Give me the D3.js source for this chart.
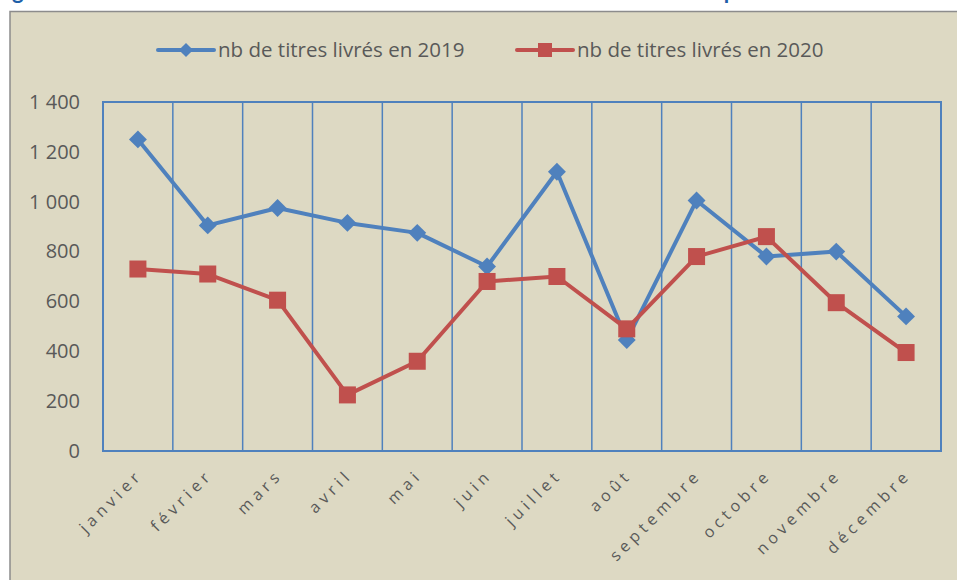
<!DOCTYPE html>
<html>
<head>
<meta charset="utf-8">
<script src="https://cdn.jsdelivr.net/npm/d3@7"></script>
<style>
  body { margin: 0; background: #fff; }
  svg { display: block; }
</style>
</head>
<body>
<div id="chart"></div>
<script>
const months = ['janvier', 'février', 'mars', 'avril', 'mai', 'juin', 'juillet',
  'août', 'septembre', 'octobre', 'novembre', 'décembre'];
const titres2019 = [1250, 905, 975, 915, 875, 740, 1120, 445, 1005, 780, 800, 540];
const titres2020 = [730, 710, 605, 225, 360, 680, 700, 490, 780, 860, 595, 395];
const yTicks = [0, 200, 400, 600, 800, 1000, 1200, 1400];
const seriesNames = ['nb de titres livrés en 2019', 'nb de titres livrés en 2020'];

const W = 957, H = 580;
const margin = { top: 102, right: 16, bottom: 129, left: 103 };
const blue = '#4f81bd', red = '#c0504d', grey = '#595959';
const font = '"Open Sans", Calibri, sans-serif';

const svg = d3.select('#chart').append('svg')
  .attr('width', W).attr('height', H);

// title, mostly cut off at the top of the picture
svg.append('text')
  .attr('x', -6).attr('y', -1)
  .style('font-family', 'Lato, sans-serif').style('font-weight', 'bold')
  .style('font-size', '22px').style('fill', '#1f5fa8')
  .text('Figure 1 : Nombre de titres livrés mensuellement en 2019 et en 2020 : comparaison');

// chart frame
svg.append('rect')
  .attr('x', 10).attr('y', 11.5)
  .attr('width', W + 10).attr('height', H + 10)
  .style('fill', '#ddd9c3').style('stroke', '#8c8c8c').style('stroke-width', 1.5);

const x = d3.scaleBand().domain(months).range([margin.left, W - margin.right]);
const y = d3.scaleLinear().domain([0, 1400]).range([H - margin.bottom, margin.top]);

const fmt = d3.formatLocale({ decimal: ',', thousands: ' ', grouping: [3], currency: ['', '€'] }).format(',');

// vertical gridlines between categories
svg.append('g')
  .selectAll('line')
  .data(months.slice(1))
  .enter()
  .append('line')
  .attr('x1', (d) => x(d)).attr('x2', (d) => x(d))
  .attr('y1', y(1400)).attr('y2', y(0))
  .style('stroke', blue).style('stroke-width', 1.5);

// plot area border
svg.append('rect')
  .attr('x', x.range()[0]).attr('y', y(1400))
  .attr('width', x.range()[1] - x.range()[0]).attr('height', y(0) - y(1400))
  .style('fill', 'none').style('stroke', blue).style('stroke-width', 2);

// y axis labels
svg.append('g')
  .attr('transform', `translate(${margin.left - 23},0)`)
  .call(d3.axisLeft(y).tickValues(yTicks).tickSize(0).tickPadding(0).tickFormat(fmt))
  .call((g) => g.select('.domain').remove())
  .selectAll('text')
  .style('font-family', font).style('font-size', '20px').style('fill', grey);

// x axis labels, rotated
svg.append('g')
  .selectAll('text')
  .data(months)
  .enter()
  .append('text')
  .attr('transform', (d) => `translate(${x(d) + x.bandwidth() / 2 + 6},${y(0) + 25}) rotate(-45)`)
  .attr('text-anchor', 'end')
  .style('font-family', font).style('font-size', '16px')
  .style('letter-spacing', '4.5px').style('fill', grey)
  .text((d) => d);

const line = d3.line()
  .x((d, i) => x(months[i]) + x.bandwidth() / 2)
  .y((d) => y(d));

// 2019 series
svg.append('path')
  .datum(titres2019)
  .attr('d', line)
  .style('fill', 'none').style('stroke', blue).style('stroke-width', 4)
  .style('stroke-linejoin', 'round');
svg.append('g')
  .selectAll('path')
  .data(titres2019)
  .enter()
  .append('path')
  .attr('d', d3.symbol().type(d3.symbolSquare).size(160))
  .attr('transform', (d, i) => `translate(${x(months[i]) + x.bandwidth() / 2},${y(d)}) rotate(45)`)
  .style('fill', blue);

// 2020 series
svg.append('path')
  .datum(titres2020)
  .attr('d', line)
  .style('fill', 'none').style('stroke', red).style('stroke-width', 4)
  .style('stroke-linejoin', 'round');
svg.append('g')
  .selectAll('rect')
  .data(titres2020)
  .enter()
  .append('rect')
  .attr('x', (d, i) => x(months[i]) + x.bandwidth() / 2 - 8.5)
  .attr('y', (d) => y(d) - 8.5)
  .attr('width', 17).attr('height', 17)
  .style('fill', red);

// legend
const legend = [
  { name: seriesNames[0], color: blue, x0: 158, shape: 'diamond' },
  { name: seriesNames[1], color: red, x0: 517, shape: 'square' },
];
const lg = svg.append('g')
  .selectAll('g')
  .data(legend)
  .enter()
  .append('g')
  .attr('transform', (d) => `translate(${d.x0},50)`);
lg.append('line')
  .attr('x1', 0).attr('x2', 56)
  .style('stroke', (d) => d.color).style('stroke-width', 4)
  .style('stroke-linecap', 'round');
lg.filter((d) => d.shape === 'diamond')
  .append('path')
  .attr('d', d3.symbol().type(d3.symbolSquare).size(100))
  .attr('transform', 'translate(28,0) rotate(45)')
  .style('fill', blue);
lg.filter((d) => d.shape === 'square')
  .append('rect')
  .attr('x', 21).attr('y', -7).attr('width', 14).attr('height', 14)
  .style('fill', red);
lg.append('text')
  .attr('x', 60).attr('y', 7)
  .style('font-family', font).style('font-size', '20.5px').style('fill', grey)
  .text((d) => d.name);
</script>
</body>
</html>
